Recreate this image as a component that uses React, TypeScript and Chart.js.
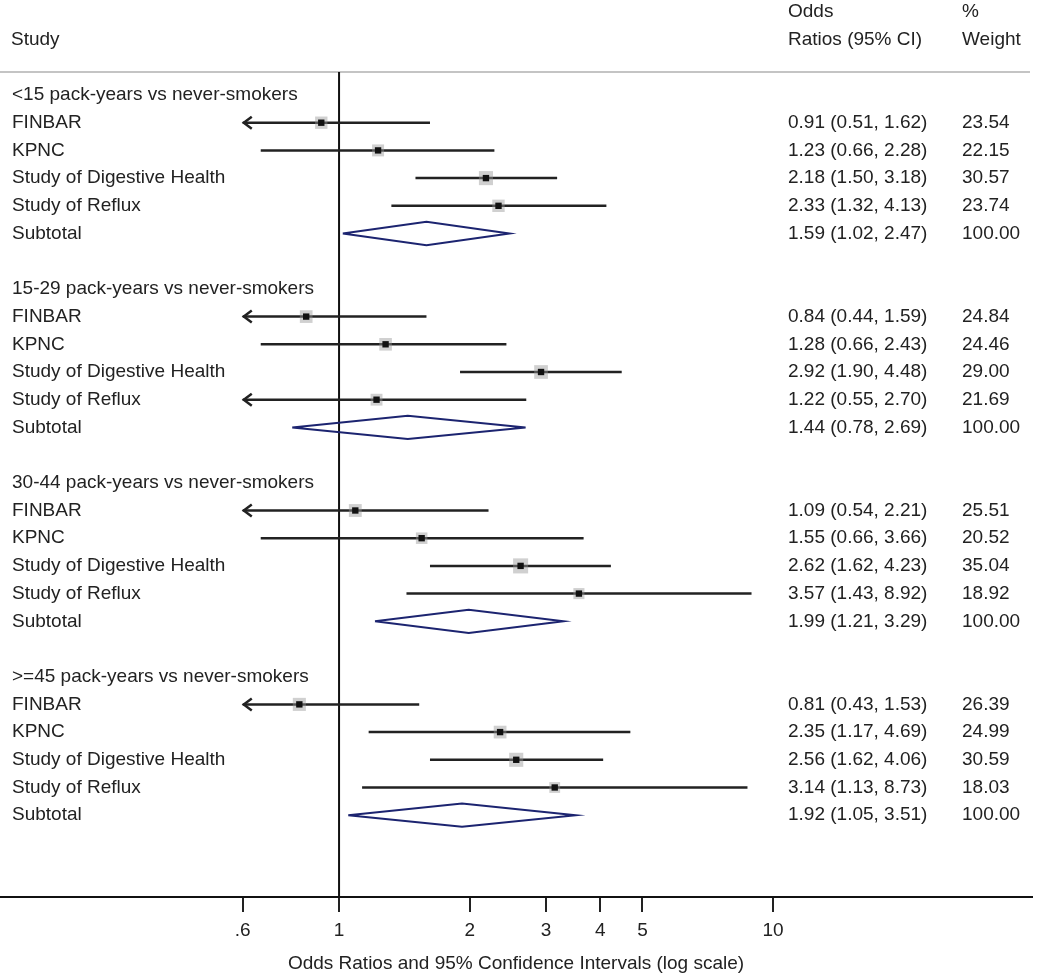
import React, { useEffect, useRef } from "react";
import { Chart, registerables } from "chart.js";

Chart.register(...registerables);

const groupLabels = [
  "<15 pack-years vs never-smokers",
  "15-29 pack-years vs never-smokers",
  "30-44 pack-years vs never-smokers",
  ">=45 pack-years vs never-smokers",
];
const studyNames = ["FINBAR", "KPNC", "Study of Digestive Health", "Study of Reflux"];
const oddsRatios = [
  [0.91, 1.23, 2.18, 2.33],
  [0.84, 1.28, 2.92, 1.22],
  [1.09, 1.55, 2.62, 3.57],
  [0.81, 2.35, 2.56, 3.14],
];
const ciLower = [
  [0.51, 0.66, 1.5, 1.32],
  [0.44, 0.66, 1.9, 0.55],
  [0.54, 0.66, 1.62, 1.43],
  [0.43, 1.17, 1.62, 1.13],
];
const ciUpper = [
  [1.62, 2.28, 3.18, 4.13],
  [1.59, 2.43, 4.48, 2.7],
  [2.21, 3.66, 4.23, 8.92],
  [1.53, 4.69, 4.06, 8.73],
];
const weights = [
  [23.54, 22.15, 30.57, 23.74],
  [24.84, 24.46, 29.0, 21.69],
  [25.51, 20.52, 35.04, 18.92],
  [26.39, 24.99, 30.59, 18.03],
];
const subtotalOR = [1.59, 1.44, 1.99, 1.92];
const subtotalLower = [1.02, 0.78, 1.21, 1.05];
const subtotalUpper = [2.47, 2.69, 3.29, 3.51];
const subtotalWeight = [100.0, 100.0, 100.0, 100.0];
const tickValues = [0.6, 1, 2, 3, 4, 5, 10];
const tickLabels = [".6", "1", "2", "3", "4", "5", "10"];
const axisTitle = "Odds Ratios and 95% Confidence Intervals (log scale)";

const FONT = '"Liberation Sans", Arial, Helvetica, sans-serif';
const TEXT = "#222";
const CLIP_MIN = 0.6;

const fmt = (o: number, l: number, h: number) =>
  `${o.toFixed(2)} (${l.toFixed(2)}, ${h.toFixed(2)})`;

export default function App() {
  const ref = useRef<HTMLCanvasElement | null>(null);

  useEffect(() => {
    const canvas = ref.current;
    if (!canvas) return;

    const studyRows: { row: number; or: number; lo: number; hi: number; w: number; name: string }[] = [];
    const subRows: { row: number; or: number; lo: number; hi: number; w: number }[] = [];
    groupLabels.forEach((_, g) => {
      studyNames.forEach((name, s) => {
        studyRows.push({
          row: g * 7 + 1 + s,
          or: oddsRatios[g][s],
          lo: ciLower[g][s],
          hi: ciUpper[g][s],
          w: weights[g][s],
          name,
        });
      });
      subRows.push({
        row: g * 7 + 5,
        or: subtotalOR[g],
        lo: subtotalLower[g],
        hi: subtotalUpper[g],
        w: subtotalWeight[g],
      });
    });

    const datasets: any[] = [];
    // black centre points (on top)
    datasets.push({
      data: studyRows.map((r) => ({ x: r.or, y: r.row })),
      pointStyle: "rect",
      pointRadius: 4.5,
      backgroundColor: "#111",
      borderColor: "#111",
      borderWidth: 0,
      showLine: false,
      order: 0,
    });
    // gray weight boxes
    datasets.push({
      data: studyRows.map((r) => ({ x: r.or, y: r.row })),
      pointStyle: "rect",
      pointRadius: studyRows.map((r) => 9 * Math.sqrt(r.w / 25)),
      backgroundColor: "rgba(150,150,150,0.45)",
      borderWidth: 0,
      showLine: false,
      order: 1,
    });
    // CI lines
    studyRows.forEach((r) => {
      datasets.push({
        data: [
          { x: Math.max(r.lo, CLIP_MIN), y: r.row },
          { x: r.hi, y: r.row },
        ],
        showLine: true,
        borderColor: "#222",
        borderWidth: 2.5,
        pointRadius: 0,
        order: 2,
      });
    });
    // diamonds
    subRows.forEach((r) => {
      datasets.push({
        data: [
          { x: r.lo, y: r.row },
          { x: r.or, y: r.row - 0.42 },
          { x: r.hi, y: r.row },
          { x: r.or, y: r.row + 0.42 },
          { x: r.lo, y: r.row },
        ],
        showLine: true,
        borderColor: "#1c2470",
        borderWidth: 2,
        backgroundColor: "#fff",
        fill: false,
        pointRadius: 0,
        tension: 0,
        order: 2,
      });
    });
    // reference line at OR = 1
    datasets.push({
      data: [
        { x: 1, y: -0.83 },
        { x: 1, y: 28.95 },
      ],
      showLine: true,
      borderColor: "#111",
      borderWidth: 2,
      pointRadius: 0,
      order: 3,
    });

    const textPlugin = {
      id: "forestText",
      beforeDatasetsDraw(chart: any) {
        const { ctx, scales } = chart;
        const y = scales.y;
        const yy = y.getPixelForValue(-0.83);
        ctx.save();
        ctx.strokeStyle = "#c4c4c4";
        ctx.lineWidth = 2;
        ctx.beginPath();
        ctx.moveTo(0, yy);
        ctx.lineTo(1030, yy);
        ctx.stroke();
        ctx.restore();
      },
      afterDatasetsDraw(chart: any) {
        const { ctx, scales } = chart;
        const x = scales.x;
        const y = scales.y;
        ctx.save();
        // arrows for clipped lower bounds
        ctx.strokeStyle = "#222";
        ctx.lineWidth = 2.5;
        studyRows.forEach((r) => {
          if (r.lo < CLIP_MIN) {
            const px = x.getPixelForValue(CLIP_MIN);
            const py = y.getPixelForValue(r.row);
            ctx.beginPath();
            ctx.moveTo(px + 9, py - 6);
            ctx.lineTo(px + 1, py);
            ctx.lineTo(px + 9, py + 6);
            ctx.stroke();
          }
        });
        ctx.fillStyle = TEXT;
        ctx.font = `19px ${FONT}`;
        ctx.textBaseline = "middle";
        ctx.textAlign = "left";
        const put = (t: string, px: number, row: number) =>
          ctx.fillText(t, px, y.getPixelForValue(row));
        put("Study", 11, -2);
        put("Odds", 788, -3);
        put("Ratios (95% CI)", 788, -2);
        put("%", 962, -3);
        put("Weight", 962, -2);
        groupLabels.forEach((g, i) => put(g, 12, i * 7));
        studyRows.forEach((r) => {
          put(r.name, 12, r.row);
          put(fmt(r.or, r.lo, r.hi), 788, r.row);
          put(r.w.toFixed(2), 962, r.row);
        });
        subRows.forEach((r) => {
          put("Subtotal", 12, r.row);
          put(fmt(r.or, r.lo, r.hi), 788, r.row);
          put(r.w.toFixed(2), 962, r.row);
        });
        ctx.restore();
      },
    };

    const chart = new Chart(canvas, {
      type: "scatter",
      data: { datasets },
      options: {
        animation: false,
        responsive: false,
        events: [],
        layout: { autoPadding: false, padding: { left: 0, right: 18, top: 0, bottom: 0 } },
        plugins: {
          legend: { display: false },
          tooltip: { enabled: false },
        },
        scales: {
          x: {
            type: "logarithmic",
            min: 0.1655,
            max: 39.5,
            afterBuildTicks: (scale: any) => {
              scale.ticks = tickValues.map((v) => ({ value: v }));
            },
            ticks: {
              autoSkip: false,
              maxRotation: 0,
              padding: 7,
              color: TEXT,
              font: { family: FONT, size: 19 },
              callback: (_v: any, i: number) => tickLabels[i],
            },
            grid: {
              display: true,
              drawOnChartArea: false,
              drawTicks: true,
              tickLength: 15,
              tickColor: "#222",
              lineWidth: 2,
            },
            border: { display: true, color: "#111", width: 2 },
            title: {
              display: true,
              text: axisTitle,
              color: TEXT,
              font: { family: FONT, size: 19 },
              padding: { top: 4, bottom: 1.5 },
            },
          },
          y: {
            type: "linear",
            display: false,
            reverse: true,
            min: -3.43,
            max: 28.95,
          },
        },
      },
      plugins: [textPlugin],
    });

    return () => chart.destroy();
  }, []);

  return (
    <div style={{ position: "absolute", left: 0, top: 0, width: 1050, height: 977, background: "#fff" }}>
      <canvas ref={ref} width={1050} height={977} style={{ display: "block" }} />
    </div>
  );
}
